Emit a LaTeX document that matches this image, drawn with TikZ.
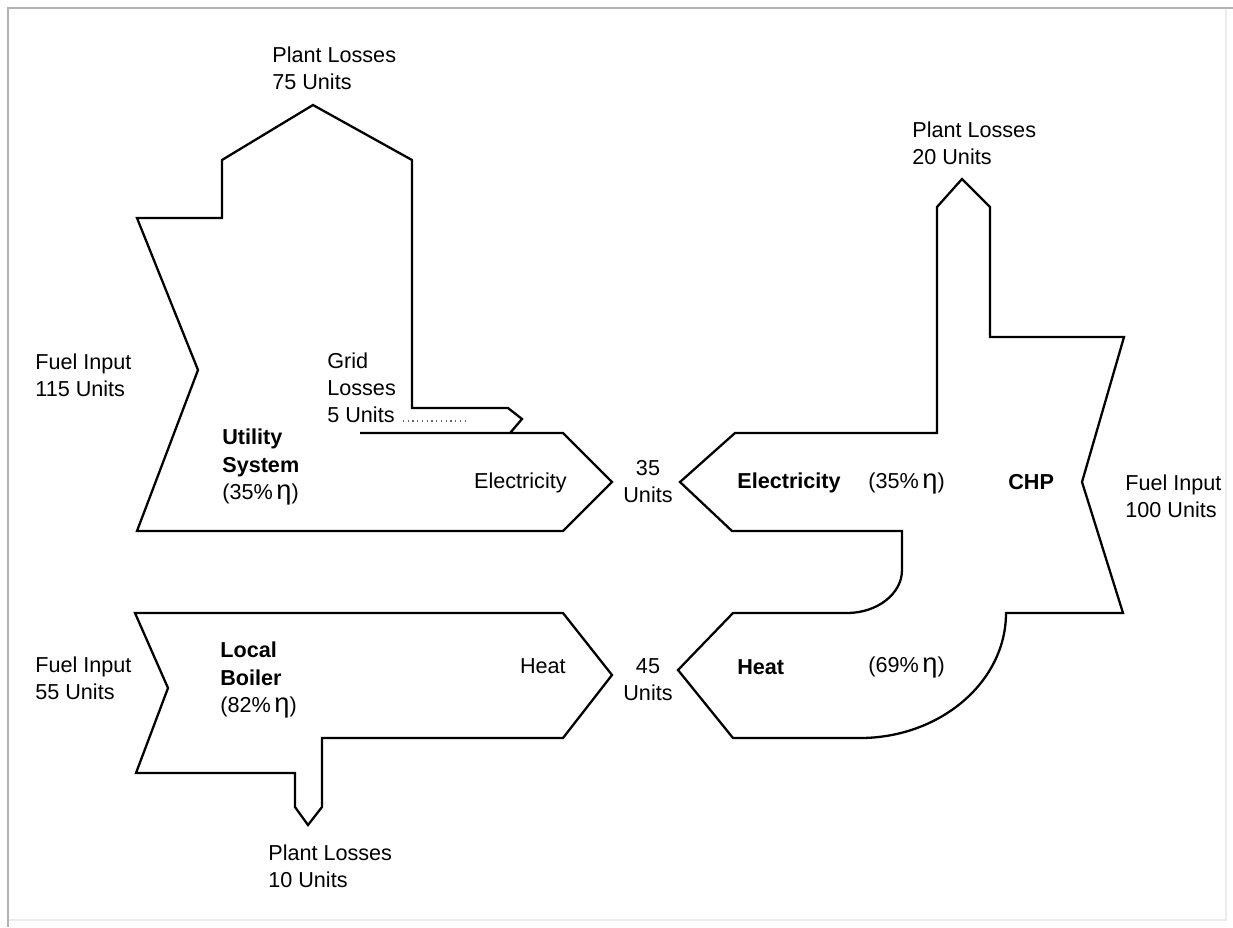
\documentclass[tikz,border=0pt]{standalone}
\usepackage{fontspec}
\setmainfont{Liberation Sans}
\usetikzlibrary{positioning}
\newcommand{\etasym}{{\fontsize{15.5}{15.4}\selectfont η}}

\begin{document}
\begin{tikzpicture}[x=0.02cm, y=-0.02cm,
    flow/.style={line width=1.3pt, line join=miter},
    lbl/.style={font=\fontsize{12.3}{15.4}\selectfont, align=left, inner sep=0pt, anchor=west},
    ctr/.style={font=\fontsize{12.3}{15.4}\selectfont, align=center, inner sep=0pt},
    frame/.style={gray!60, line width=1.3pt},
    leader/.style={dotted, line width=0.7pt, gray!80!black}
]
    \useasboundingbox (0,0) rectangle (1233,927);
    \draw[gray!15, line width=1pt] (1226,8) -- (1226,920) -- (8,920);
    \draw[frame] (8,927) -- (8,8) -- (1233,8);

    \draw[flow] (360,433) -- (563,433) -- (612,482) -- (563,531) -- (137,531) -- (198,370) -- (137,218)
        -- (222,218) -- (222,160) -- (313,105) -- (412,160) -- (412,408) -- (508,408) -- (522,419) -- (510,433);
    \draw[flow] (563,613) -- (135,613) -- (168,688) -- (136,773) -- (295,773) -- (295,807) -- (308,825)
        -- (322,807) -- (322,738) -- (563,738) -- (612,675) -- cycle;
    \draw[flow] (680,482) -- (735,433) -- (937,433) -- (937,207) -- (962,179) -- (990,207) -- (990,337)
        -- (1124,337) -- (1082,482) -- (1123,613) -- (1006,613) .. controls (1006,682) and (940,738) .. (860,738)
        -- (733,738) -- (678,670) -- (733,613) -- (847,613) .. controls (877,613) and (902,594) .. (902,570)
        -- (902,531) -- (732,531) -- cycle;

    \node[lbl] (pl75) at (272,68) {Plant Losses\\75 Units};
    \node[lbl] (fuel115) at (35,375) {Fuel Input\\115 Units};
    \node[lbl] (gridloss) at (327,388) {Grid\\Losses\\5 Units};
    \coordinate (dotsA) at (403,421);
    \coordinate (dotsB) at (467,421);
    \draw[leader] (dotsA) -- (dotsB);
    \node[lbl] (util) at (222,467) {\textbf{Utility}\\\textbf{System}\\(35\%\,\etasym)};
    \node[lbl, anchor=east] (elecU) at (567,483) {Electricity};
    \node[ctr] (u35) at (648,482) {35\\Units};

    \node[lbl] (elecC) at (737,483) {\textbf{Electricity}};
    \node[lbl, right=0.54cm of elecC] (effE) {(35\%\,\etasym)};
    \node[lbl] (chp) at (1008,482) {\textbf{CHP}};
    \node[lbl] (fuel100) at (1125,496) {Fuel Input\\100 Units};
    \node[lbl] (pl20) at (912,143) {Plant Losses\\20 Units};

    \node[lbl] (fuel55) at (35,678) {Fuel Input\\55 Units};
    \node[lbl] (boiler) at (220,680) {\textbf{Local}\\\textbf{Boiler}\\(82\%\,\etasym)};
    \node[lbl, anchor=east] (heatB) at (566,666) {Heat};
    \node[ctr] (u45) at (648,680) {45\\Units};
    \node[lbl] (heatC) at (737,667) {\textbf{Heat}};
    \node[lbl] (effH) at (868,667) {(69\%\,\etasym)};
    \node[lbl] (pl10) at (268,866) {Plant Losses\\10 Units};
\end{tikzpicture}
\end{document}
